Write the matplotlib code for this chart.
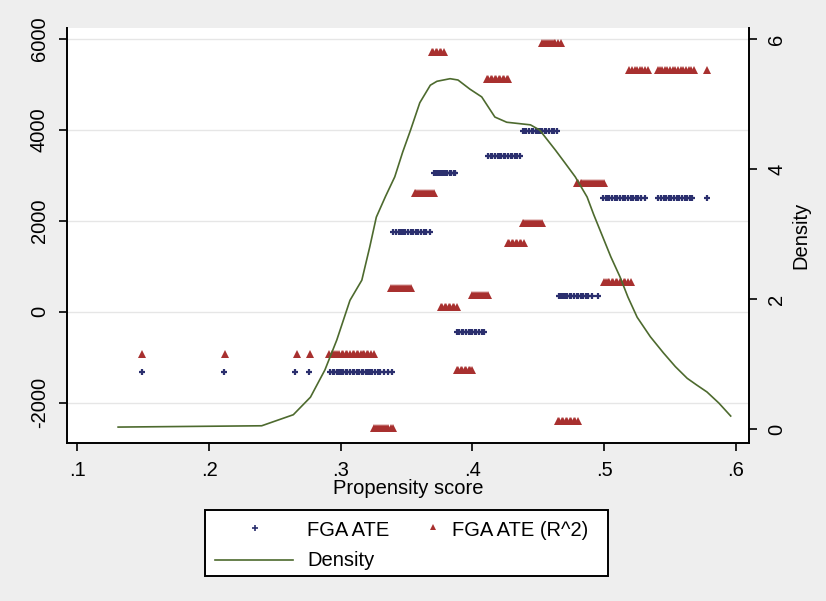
import matplotlib
matplotlib.use("Agg")
import matplotlib.pyplot as plt
from matplotlib.lines import Line2D
from matplotlib.patches import Rectangle

plt.rcParams["font.family"] = ["Liberation Sans", "DejaVu Sans"]

# FGA ATE: one y level per cluster, propensity scores of its members
ate_levels = [-1320, 1760, 3050, 3420, 3970, 2490, 350, -450]
ate_x = [
    [0.149, 0.211, 0.265, 0.276,
     0.292, 0.294, 0.295, 0.297, 0.299, 0.300, 0.302, 0.304, 0.305, 0.307,
     0.309, 0.310, 0.312, 0.314, 0.316, 0.317, 0.319, 0.321, 0.322, 0.324,
     0.326, 0.328, 0.330, 0.333, 0.336, 0.339],
    [0.340, 0.342, 0.344, 0.346, 0.347, 0.349, 0.351, 0.353, 0.355, 0.357,
     0.359, 0.361, 0.363, 0.365, 0.368],
    [0.371, 0.372, 0.374, 0.375, 0.377, 0.378, 0.380, 0.381, 0.383, 0.384,
     0.386, 0.387],
    [0.412, 0.414, 0.415, 0.417, 0.419, 0.420, 0.422, 0.424, 0.425, 0.427,
     0.429, 0.430, 0.432, 0.434, 0.436],
    [0.438, 0.440, 0.441, 0.443, 0.445, 0.446, 0.448, 0.450, 0.451, 0.453,
     0.455, 0.456, 0.458, 0.460, 0.462, 0.464],
    [0.499, 0.501, 0.503, 0.504, 0.506, 0.508, 0.510, 0.512, 0.514, 0.516,
     0.518, 0.520, 0.522, 0.524, 0.526, 0.528, 0.531,
     0.541, 0.543, 0.545, 0.547, 0.549, 0.551, 0.553, 0.555, 0.557, 0.559,
     0.561, 0.563, 0.565, 0.567, 0.578],
    [0.466, 0.467, 0.469, 0.470, 0.472, 0.474, 0.475, 0.477, 0.479, 0.480,
     0.482, 0.484, 0.486, 0.488, 0.491, 0.495],
    [0.388, 0.390, 0.392, 0.393, 0.395, 0.397, 0.398, 0.400, 0.402, 0.403,
     0.405, 0.407, 0.409],
]

# FGA ATE (R^2)
r2_levels = [-940, -2550, 530, 2600, 5720, -1290, 110, 365, 1500, 1960,
             5110, 5920, 5315, 2840, 650, -2410]
r2_x = [
    [0.149, 0.212, 0.267, 0.277,
     0.291, 0.293, 0.294, 0.296, 0.297, 0.299, 0.301, 0.302, 0.304, 0.305,
     0.307, 0.309, 0.310, 0.312, 0.313, 0.315, 0.317, 0.318, 0.320, 0.321,
     0.323, 0.325],
    [0.325, 0.327, 0.328, 0.330, 0.331, 0.333, 0.334, 0.336, 0.338, 0.340],
    [0.338, 0.340, 0.341, 0.343, 0.344, 0.346, 0.347, 0.349, 0.350, 0.352, 0.353],
    [0.356, 0.357, 0.359, 0.360, 0.362, 0.363, 0.365, 0.366, 0.368, 0.369, 0.371],
    [0.369, 0.370, 0.372, 0.373, 0.375, 0.376, 0.378],
    [0.388, 0.389, 0.391, 0.392, 0.394, 0.395, 0.397, 0.398, 0.400],
    [0.376, 0.377, 0.379, 0.380, 0.382, 0.383, 0.385, 0.386, 0.388],
    [0.400, 0.401, 0.403, 0.404, 0.406, 0.407, 0.409, 0.410, 0.412],
    [0.427, 0.428, 0.430, 0.431, 0.433, 0.434, 0.436, 0.437, 0.439],
    [0.438, 0.439, 0.441, 0.442, 0.444, 0.445, 0.447, 0.448, 0.450, 0.451, 0.453],
    [0.411, 0.412, 0.414, 0.415, 0.417, 0.418, 0.420, 0.421, 0.423, 0.424,
     0.426, 0.427],
    [0.453, 0.454, 0.456, 0.457, 0.459, 0.460, 0.462, 0.463, 0.465, 0.467],
    [0.519, 0.521, 0.523, 0.525, 0.527, 0.529, 0.531, 0.533,
     0.541, 0.542, 0.544, 0.546, 0.548, 0.550, 0.552, 0.554, 0.556, 0.558,
     0.560, 0.562, 0.564, 0.566, 0.568, 0.578],
    [0.479, 0.480, 0.482, 0.483, 0.485, 0.486, 0.488, 0.489, 0.491, 0.492,
     0.494, 0.495, 0.497, 0.498, 0.500],
    [0.500, 0.501, 0.503, 0.504, 0.506, 0.507, 0.509, 0.510, 0.512, 0.513,
     0.515, 0.516, 0.518, 0.520],
    [0.465, 0.466, 0.468, 0.469, 0.471, 0.472, 0.474, 0.475, 0.477, 0.478, 0.480],
]

# kernel density of the propensity score (right axis)
dens_x = [0.131, 0.240, 0.264, 0.277, 0.288, 0.297, 0.307, 0.316, 0.322, 0.327,
          0.334, 0.341, 0.347, 0.353, 0.360, 0.368, 0.373, 0.378, 0.383, 0.389,
          0.398, 0.407, 0.417, 0.426, 0.435, 0.444, 0.451, 0.463, 0.470, 0.478,
          0.487, 0.492, 0.499, 0.505, 0.512, 0.518, 0.525, 0.535, 0.545, 0.554,
          0.563, 0.570, 0.578, 0.587, 0.596]
dens_y = [0.03, 0.05, 0.22, 0.49, 0.91, 1.37, 1.98, 2.29, 2.80, 3.26,
          3.58, 3.88, 4.26, 4.60, 5.02, 5.29, 5.35, 5.37, 5.39, 5.37,
          5.23, 5.11, 4.80, 4.72, 4.70, 4.68, 4.60, 4.29, 4.10, 3.88,
          3.57, 3.30, 2.95, 2.65, 2.34, 2.03, 1.72, 1.42, 1.17, 0.96,
          0.78, 0.68, 0.57, 0.40, 0.20]

xticks = [0.1, 0.2, 0.3, 0.4, 0.5, 0.6]
xticklabels = [".1", ".2", ".3", ".4", ".5", ".6"]
yticks = [-2000, 0, 2000, 4000, 6000]
dticks = [0, 2, 4, 6]

navy = "#2b2f6e"
maroon = "#a8302f"
green = "#4d6a2e"
bg = "#eeeeee"
fs = 14.5

fig = plt.figure(figsize=(8.26, 6.01), dpi=100, facecolor=bg)
ax = fig.add_axes([67 / 826, 1 - 443 / 601, (749 - 67) / 826, (443 - 28) / 601])
ax.set_facecolor("white")

for lev, xs in zip(ate_levels, ate_x):
    ax.plot(xs, [lev] * len(xs), linestyle="none", marker="+", color=navy,
            markersize=5, markeredgewidth=1.6)
for lev, xs in zip(r2_levels, r2_x):
    ax.plot(xs, [lev] * len(xs), linestyle="none", marker="^", color=maroon,
            markersize=6, markeredgewidth=0)

ax.set_xlim(0.0922, 0.6099)
ax.set_ylim(-2891, 6242)
ax.set_xticks(xticks)
ax.set_xticklabels(xticklabels)
ax.set_yticks(yticks)
ax.set_yticklabels([str(v) for v in yticks], rotation=90, va="center")
ax.grid(axis="y", color="#e6e6e6", linewidth=1)
ax.set_axisbelow(True)
ax.tick_params(axis="both", labelsize=fs, length=6, width=1.2, pad=7)
ax.set_xlabel("Propensity score", fontsize=fs, labelpad=-1)
ax.spines["top"].set_visible(False)
ax.spines["right"].set_visible(False)
for s in ["left", "bottom"]:
    ax.spines[s].set_linewidth(1.4)

ax2 = ax.twinx()
ax2.plot(dens_x, dens_y, color=green, linewidth=1.2)
ax2.set_ylim(-0.215, 6.17)
ax2.set_yticks(dticks)
ax2.set_yticklabels([str(v) for v in dticks], rotation=90, va="center")
ax2.tick_params(axis="y", labelsize=fs, length=6, width=1.2, pad=7)
ax2.set_ylabel("Density", fontsize=fs, labelpad=4)
ax2.spines["top"].set_visible(False)
ax2.spines["left"].set_visible(False)
ax2.spines["bottom"].set_visible(False)
ax2.spines["right"].set_linewidth(1.4)


def fx(px):
    return px / 826


def fy(py):
    return 1 - py / 601


# legend below the plot
fig.patches.append(Rectangle((fx(205), fy(576)), fx(608) - fx(205), fy(510) - fy(576),
                             transform=fig.transFigure, facecolor="white",
                             edgecolor="black", linewidth=1.4))
fig.lines.append(Line2D([fx(255)], [fy(528)], transform=fig.transFigure,
                        marker="+", color=navy, markersize=4, markeredgewidth=1.2))
fig.lines.append(Line2D([fx(433)], [fy(527)], transform=fig.transFigure,
                        marker="^", color=maroon, markersize=4, markeredgewidth=0))
fig.lines.append(Line2D([fx(215), fx(293)], [fy(560), fy(560)], transform=fig.transFigure,
                        color=green, linewidth=1.2))
fig.text(fx(307), fy(531), "FGA ATE", fontsize=fs, va="center")
fig.text(fx(452), fy(531), "FGA ATE (R^2)", fontsize=fs, va="center")
fig.text(fx(307), fy(560), "Density", fontsize=fs, va="center")

fig.savefig("out.png", dpi=100, facecolor=bg)
